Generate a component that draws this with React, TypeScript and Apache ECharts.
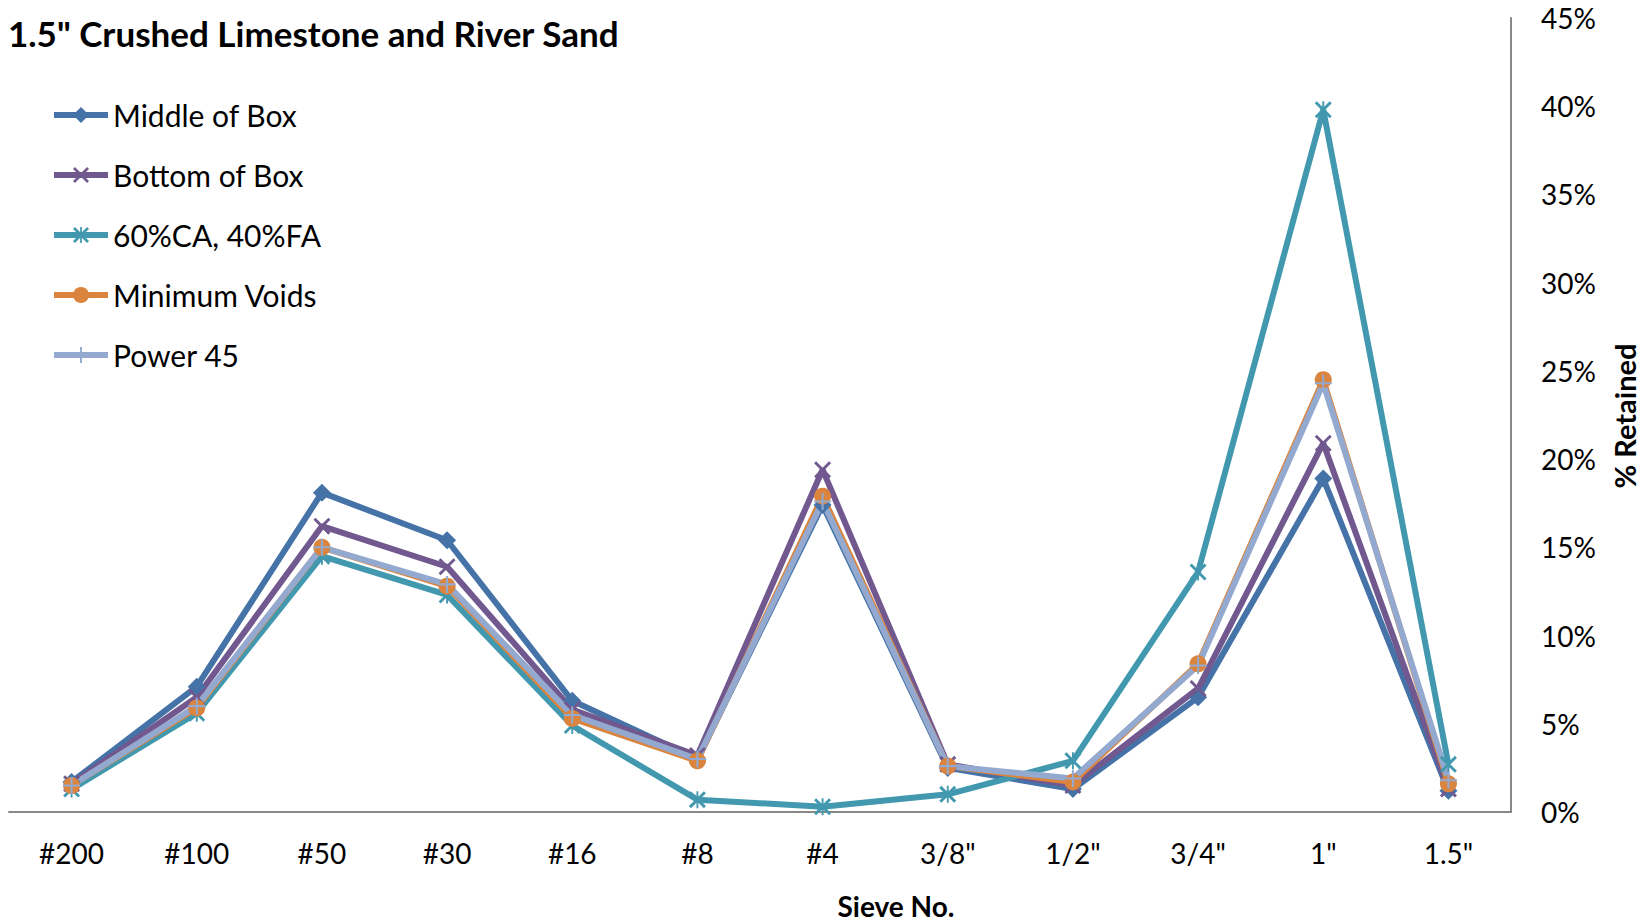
import React, { useEffect, useRef } from "react";
import * as echarts from "echarts";

const categories = ["#200", "#100", "#50", "#30", "#16", "#8", "#4", '3/8"', '1/2"', '3/4"', '1"', '1.5"'];
const middleOfBox = [1.7, 7.1, 18.1, 15.4, 6.3, 3.0, 17.4, 2.5, 1.3, 6.5, 18.9, 1.2];
const bottomOfBox = [1.6, 6.5, 16.2, 13.9, 5.8, 3.2, 19.4, 2.7, 1.5, 7.0, 20.9, 1.3];
const ca60fa40 = [1.3, 5.6, 14.5, 12.3, 4.9, 0.7, 0.3, 1.0, 2.9, 13.6, 39.8, 2.7];
const minimumVoids = [1.5, 5.9, 15.0, 12.8, 5.3, 2.9, 17.9, 2.6, 1.7, 8.4, 24.5, 1.6];
const power45 = [1.5, 6.0, 15.0, 12.9, 5.5, 3.0, 17.6, 2.6, 1.9, 8.3, 24.3, 1.8];
const yTicks = [0, 5, 10, 15, 20, 25, 30, 35, 40, 45];

const FONT = "Lato, 'Open Sans', sans-serif";
const X_PATH = "path://M0,1.2L1.2,0L10,8.8L8.8,10ZM8.8,0L10,1.2L1.2,10L0,8.8Z";
const STAR_PATH = "path://M0,1.2L1.2,0L10,8.8L8.8,10ZM8.8,0L10,1.2L1.2,10L0,8.8ZM4.45,0L5.55,0L5.55,10L4.45,10Z";
const PLUS_PATH = "path://M4.4,0L5.6,0L5.6,10L4.4,10ZM0,4.4L10,4.4L10,5.6L0,5.6Z";

export default function App() {
  const ref = useRef<HTMLDivElement>(null);
  useEffect(() => {
    if (!ref.current) return;
    const chart = echarts.init(ref.current, null, { renderer: "svg" });
    const mk = (name: string, data: number[], color: string, symbol: string, size: number) => ({
      name,
      type: "line",
      data,
      symbol,
      symbolSize: size,
      showAllSymbol: true,
      color,
      lineStyle: { color, width: 6 },
      itemStyle: { color },
      emphasis: { disabled: true },
    });
    chart.setOption({
      animation: false,
      backgroundColor: "#ffffff",
      textStyle: { fontFamily: FONT },
      grid: { left: 9, right: 137, top: 18, bottom: 112, containLabel: false, outerBoundsMode: "none" },
      legend: {
        orient: "vertical",
        left: 46,
        top: 95,
        itemWidth: 54,
        itemHeight: 20,
        itemGap: 30,
        lineStyle: { width: 6 },
        textStyle: { fontFamily: FONT, fontSize: 30, color: "#000", lineHeight: 30 },
        data: ["Middle of Box", "Bottom of Box", "60%CA, 40%FA", "Minimum Voids", "Power 45"],
      },
      xAxis: {
        type: "category",
        data: categories,
        boundaryGap: true,
        axisLine: { show: true, lineStyle: { color: "#888888", width: 2 } },
        axisTick: { show: false },
        axisLabel: { color: "#000", fontSize: 28, fontFamily: FONT, margin: 27, interval: 0 },
        splitLine: { show: false },
      },
      yAxis: {
        type: "value",
        position: "right",
        min: 0,
        max: 45,
        interval: 5,
        axisLine: { show: true, lineStyle: { color: "#888888", width: 2 } },
        axisTick: { show: false },
        splitLine: { show: false },
        axisLabel: {
          color: "#000",
          fontSize: 28,
          fontFamily: FONT,
          margin: 30,
          align: "left",
          formatter: (v: number) => (yTicks.includes(v) ? `${v}%` : ""),
        },
      },
      graphic: [
        {
          type: "text",
          left: 8,
          top: 15,
          style: { text: '1.5" Crushed Limestone and River Sand', fontFamily: FONT, fontWeight: "bold", fontSize: 35, fill: "#000" },
        },
        {
          type: "text",
          x: 896,
          y: 906,
          style: { text: "Sieve No.", fontFamily: FONT, fontWeight: "bold", fontSize: 28, fill: "#000", textAlign: "center", textVerticalAlign: "middle" },
        },
        {
          type: "text",
          x: 1624,
          y: 416,
          rotation: Math.PI / 2,
          style: { text: "% Retained", fontFamily: FONT, fontWeight: "bold", fontSize: 29, fill: "#000", textAlign: "center", textVerticalAlign: "middle" },
        },
      ],
      series: [
        mk("Middle of Box", middleOfBox, "#4572A7", "diamond", 18),
        mk("Bottom of Box", bottomOfBox, "#71588F", X_PATH, 17),
        mk("60%CA, 40%FA", ca60fa40, "#4198AF", STAR_PATH, 17),
        mk("Minimum Voids", minimumVoids, "#DB843D", "circle", 17),
        mk("Power 45", power45, "#93A9CF", PLUS_PATH, 17),
      ],
    });
    return () => chart.dispose();
  }, []);
  return <div ref={ref} style={{ position: "fixed", left: 0, top: 0, width: 1648, height: 924 }} />;
}
